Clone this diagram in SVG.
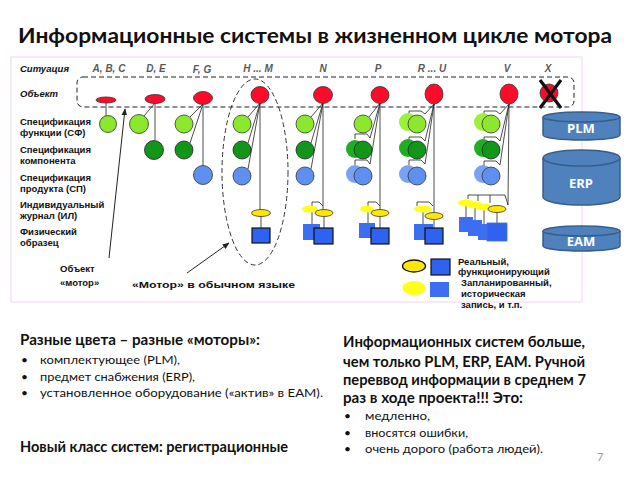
<svg xmlns="http://www.w3.org/2000/svg" width="638" height="479" viewBox="0 0 638 479">
<style>
.t{font-family:"Liberation Sans",Arial,sans-serif;font-weight:bold;font-size:9.5px;fill:#111}
.ti{font-family:"Liberation Sans",Arial,sans-serif;font-weight:bold;font-style:italic;font-size:9.5px;fill:#111}
.hd{font-family:"Liberation Sans",Arial,sans-serif;font-weight:bold;font-style:italic;font-size:10px;fill:#5a5a5a;text-anchor:middle}
.c{font-family:Lato,"Open Sans",sans-serif;fill:#111}
.b{font-weight:bold}
.red{fill:#ff0a2a;stroke:#333;stroke-width:0.8}
.lg{fill:#8ce82c;stroke:#333;stroke-width:0.8}
.lgg{fill:#9cf23a;stroke:none}
.dg{fill:#12961a;stroke:#222;stroke-width:0.8}
.dgg{fill:#1fae22;stroke:none}
.bl{fill:#5f8ff0;stroke:#333;stroke-width:0.8}
.blg{fill:#7aa2f4;stroke:none}
.yl{fill:#ffe800;stroke:#333;stroke-width:0.8}
.ylg{fill:#ffff1a;stroke:none}
.sq{fill:#2f62f0;stroke:#111;stroke-width:1.2}
.sqg{fill:#3c6ef2;stroke:none}
.ln{fill:none;stroke:#222;stroke-width:0.8}
.cyl{fill:#4f81bd;stroke:#385d8a;stroke-width:1.5}
.cyt{font-family:"Open Sans","Liberation Sans",sans-serif;font-weight:bold;font-size:13px;fill:#fff;text-anchor:middle}
</style>
<defs>
<marker id="ah" viewBox="0 0 10 10" refX="9" refY="5" markerWidth="7" markerHeight="7" orient="auto-start-reverse">
<path d="M0,1 L10,5 L0,9 z" fill="#222"/>
</marker>
</defs>
<rect width="638" height="479" fill="#fff"/>
<rect x="11" y="57" width="571" height="245" fill="none" stroke="#f0d4f0" stroke-width="1"/>
<text class="c b" x="18" y="43" font-size="21" textLength="594" lengthAdjust="spacingAndGlyphs">Информационные системы в жизненном цикле мотора</text>

<g id="row-labels">
<text class="ti" x="20" y="72">Ситуация</text>
<text class="ti" x="20" y="97">Объект</text>
<text class="t" x="20" y="125">Спецификация</text>
<text class="t" x="20" y="136">функции (СФ)</text>
<text class="t" x="20" y="153">Спецификация</text>
<text class="t" x="20" y="164">компонента</text>
<text class="t" x="20" y="181">Спецификация</text>
<text class="t" x="20" y="192">продукта (СП)</text>
<text class="t" x="20" y="208">Индивидуальный</text>
<text class="t" x="20" y="219">журнал (ИЛ)</text>
<text class="t" x="20" y="235">Физический</text>
<text class="t" x="20" y="246">образец</text>
</g>

<g id="col-headers">
<text class="hd" x="109" y="72">A, B, C</text>
<text class="hd" x="156" y="72">D, E</text>
<text class="hd" x="202" y="73">F, G</text>
<text class="hd" x="258" y="72">H ... M</text>
<text class="hd" x="323" y="72">N</text>
<text class="hd" x="378" y="72">P</text>
<text class="hd" x="432" y="72">R ... U</text>
<text class="hd" x="507" y="72">V</text>
<text class="hd" x="548" y="72">X</text>
</g>

<rect id="object-band" x="77" y="77" width="497" height="30" rx="6" fill="none" stroke="#222" stroke-width="1" stroke-dasharray="5,3"/>

<g id="connectors">
<line class="ln" x1="106" y1="103" x2="106" y2="116"/>
<line class="ln" x1="155" y1="103" x2="144" y2="116"/>
<line class="ln" x1="155" y1="103" x2="155" y2="140"/>
<line class="ln" x1="203" y1="104" x2="190" y2="117"/>
<line class="ln" x1="203" y1="104" x2="190" y2="143"/>
<line class="ln" x1="203" y1="104" x2="203" y2="166"/>
<line class="ln" x1="260" y1="103" x2="248" y2="117"/>
<line class="ln" x1="260" y1="103" x2="248" y2="143"/>
<line class="ln" x1="260" y1="103" x2="248" y2="169"/>
<line class="ln" x1="260" y1="103" x2="260" y2="210"/>
<line class="ln" x1="261" y1="216" x2="261" y2="228"/>
<line class="ln" x1="323" y1="103" x2="311" y2="117"/>
<line class="ln" x1="323" y1="103" x2="311" y2="143"/>
<line class="ln" x1="323" y1="103" x2="311" y2="169"/>
<line class="ln" x1="323" y1="103" x2="323" y2="210"/>
<path class="ln" d="M312,206 V202 H319 L323,206"/>
<line class="ln" x1="312" y1="212" x2="312" y2="224"/>
<line class="ln" x1="324" y1="217" x2="324" y2="228"/>
<line class="ln" x1="380" y1="103" x2="369" y2="117"/>
<line class="ln" x1="380" y1="103" x2="370" y2="138"/>
<path class="ln" d="M355,139 V134 H367 L370,138"/>
<line class="ln" x1="380" y1="103" x2="370" y2="164"/>
<path class="ln" d="M355,165 V160 H367 L370,164"/>
<line class="ln" x1="380" y1="103" x2="380" y2="210"/>
<path class="ln" d="M368,206 V202 H376 L380,206"/>
<line class="ln" x1="368" y1="212" x2="368" y2="223"/>
<line class="ln" x1="380" y1="217" x2="380" y2="228"/>
<line class="ln" x1="434" y1="104" x2="425" y2="114"/>
<path class="ln" d="M409,116 V111 H421 L425,114"/>
<line class="ln" x1="434" y1="104" x2="425" y2="141"/>
<path class="ln" d="M409,142 V137 H421 L425,141"/>
<line class="ln" x1="434" y1="104" x2="425" y2="164"/>
<path class="ln" d="M409,165 V160 H421 L425,164"/>
<line class="ln" x1="434" y1="104" x2="434" y2="212"/>
<path class="ln" d="M417,206 V202 H429 L433,206"/>
<line class="ln" x1="423" y1="212" x2="423" y2="224"/>
<line class="ln" x1="434" y1="219" x2="434" y2="228"/>
<line class="ln" x1="509" y1="104" x2="500" y2="114"/>
<path class="ln" d="M484,116 V111 H496 L500,114"/>
<line class="ln" x1="509" y1="104" x2="500" y2="141"/>
<path class="ln" d="M484,142 V137 H496 L500,141"/>
<line class="ln" x1="509" y1="104" x2="500" y2="165"/>
<path class="ln" d="M484,166 V161 H496 L500,165"/>
<line class="ln" x1="509" y1="104" x2="508" y2="205"/>
<path class="ln" d="M468,199 V195 H505 L508,205"/>
<line class="ln" x1="478" y1="195" x2="478" y2="201"/>
<line class="ln" x1="490" y1="195" x2="490" y2="203"/>
<line class="ln" x1="466" y1="206" x2="466" y2="217"/>
<line class="ln" x1="475" y1="208" x2="475" y2="220"/>
<line class="ln" x1="484" y1="210" x2="484" y2="224"/>
<line class="ln" x1="497" y1="212" x2="497" y2="223"/>
<line x1="109" y1="258" x2="125" y2="109" stroke="#222" stroke-width="1" marker-end="url(#ah)"/>
<line x1="187" y1="273" x2="229" y2="243" stroke="#222" stroke-width="1" marker-end="url(#ah)"/>
</g>

<g id="col-abc">
<ellipse class="red" cx="106" cy="100" rx="10" ry="3"/>
<circle class="lg" cx="108" cy="124" r="8.5"/>
</g>
<g id="col-de">
<ellipse class="red" cx="155" cy="99" rx="10" ry="4.5"/>
<circle class="lg" cx="139" cy="124" r="9.5"/>
<circle class="dg" cx="154" cy="150" r="9.5"/>
</g>
<g id="col-fg">
<ellipse class="red" cx="203" cy="98" rx="9.5" ry="6.5"/>
<circle class="lg" cx="184" cy="124" r="9"/>
<circle class="dg" cx="184" cy="150" r="9"/>
<circle class="bl" cx="203" cy="175" r="9.5"/>
</g>
<g id="col-hm">
<ellipse class="red" cx="260" cy="95" rx="9" ry="8.5"/>
<circle class="lg" cx="242" cy="124" r="9"/>
<circle class="dg" cx="242" cy="150" r="9"/>
<circle class="bl" cx="242" cy="176" r="9"/>
<ellipse class="yl" cx="261" cy="213" rx="9.5" ry="3.5"/>
<rect class="sq" x="252" y="228" width="18" height="15"/>
<ellipse cx="255" cy="172" rx="33" ry="93" fill="none" stroke="#333" stroke-width="1" stroke-dasharray="5,3"/>
</g>
<g id="col-n">
<ellipse class="red" cx="323" cy="95" rx="9.5" ry="8.5"/>
<circle class="lg" cx="305" cy="124" r="9"/>
<circle class="dg" cx="305" cy="150" r="9"/>
<circle class="bl" cx="305" cy="176" r="9"/>
<ellipse class="ylg" cx="310" cy="209" rx="8" ry="3.5"/>
<ellipse class="yl" cx="324" cy="213" rx="9" ry="3.5"/>
<rect class="sqg" x="303" y="224" width="17" height="16"/>
<rect class="sq" x="314" y="228" width="19" height="16"/>
</g>
<g id="col-p">
<ellipse class="red" cx="380" cy="95" rx="9" ry="8.5"/>
<circle class="lg" cx="363" cy="124" r="9"/>
<circle class="dgg" cx="355" cy="149" r="9"/>
<circle class="dg" cx="363" cy="150" r="9"/>
<circle class="blg" cx="355" cy="174" r="9"/>
<circle class="bl" cx="363" cy="176" r="9"/>
<ellipse class="ylg" cx="367" cy="209" rx="7" ry="3.5"/>
<ellipse class="yl" cx="380" cy="213" rx="9" ry="3.5"/>
<rect class="sqg" x="359" y="223" width="16" height="15"/>
<rect class="sq" x="371" y="228" width="18" height="16"/>
</g>
<g id="col-ru">
<ellipse class="red" cx="434" cy="94" rx="9" ry="10"/>
<circle class="lgg" cx="408" cy="122" r="9"/>
<circle class="lg" cx="417" cy="124" r="9"/>
<circle class="dgg" cx="408" cy="148" r="9"/>
<circle class="dg" cx="417" cy="150" r="9"/>
<circle class="blg" cx="408" cy="174" r="9"/>
<circle class="bl" cx="417" cy="176" r="9"/>
<ellipse class="ylg" cx="423" cy="209" rx="9" ry="3.5"/>
<ellipse class="yl" cx="434" cy="216" rx="9" ry="3.5"/>
<rect class="sqg" x="414" y="224" width="19" height="16"/>
<rect class="sq" x="425" y="228" width="18" height="16"/>
</g>
<g id="col-v">
<ellipse class="red" cx="509" cy="94" rx="9" ry="10"/>
<circle class="lgg" cx="483" cy="122" r="9"/>
<circle class="lg" cx="491" cy="124" r="9"/>
<circle class="dgg" cx="483" cy="148" r="9"/>
<circle class="dg" cx="491" cy="150" r="9"/>
<circle class="blg" cx="483" cy="174" r="9"/>
<circle class="bl" cx="491" cy="176" r="9"/>
<ellipse class="ylg" cx="466" cy="203" rx="8" ry="3.5"/>
<ellipse class="ylg" cx="475" cy="205" rx="8" ry="3.5"/>
<ellipse class="ylg" cx="484" cy="207" rx="8" ry="3.5"/>
<ellipse class="yl" cx="497" cy="209" rx="9" ry="3.5"/>
<rect class="sqg" x="459" y="217" width="14" height="15"/>
<rect class="sqg" x="468" y="220" width="14" height="16"/>
<rect class="sqg" x="478" y="224" width="12" height="16"/>
<rect x="487" y="223" width="20" height="18" fill="#2f62f0" stroke="#4a6fd0" stroke-width="0.8"/>
</g>
<g id="col-x">
<ellipse class="red" cx="549" cy="93" rx="9" ry="9"/>
<path d="M540,80 L561,108 M561,80 L540,108" stroke="#111" stroke-width="3.2" fill="none"/>
</g>

<g id="plm">
<path class="cyl" d="M543,117 A38.5,5 0 0 1 620,117 V135 A38.5,5 0 0 1 543,135 Z"/>
<path class="cyl" d="M543,117 A38.5,5 0 0 0 620,117" fill="none"/>
<text class="cyt" x="581" y="133">PLM</text>
</g>
<g id="erp">
<path class="cyl" d="M543,158 A38.5,8 0 0 1 620,158 V197 A38.5,8 0 0 1 543,197 Z"/>
<path class="cyl" d="M543,158 A38.5,8 0 0 0 620,158" fill="none"/>
<text class="cyt" x="581" y="188">ERP</text>
</g>
<g id="eam">
<path class="cyl" d="M543,231 A38.5,5 0 0 1 620,231 V246 A38.5,5 0 0 1 543,246 Z"/>
<path class="cyl" d="M543,231 A38.5,5 0 0 0 620,231" fill="none"/>
<text class="cyt" x="581" y="246">EAM</text>
</g>

<g id="legend">
<ellipse cx="414" cy="266" rx="11.5" ry="6" fill="#ffe800" stroke="#111" stroke-width="1.3"/>
<rect class="sq" x="431" y="259" width="19" height="16"/>
<ellipse class="ylg" cx="414" cy="288" rx="11.5" ry="7"/>
<rect class="sqg" x="430" y="282" width="19" height="15"/>
<text class="t" x="458" y="265" font-size="9.3">Реальный,</text>
<text class="t" x="458" y="275" font-size="9.3">функционирующий</text>
<text class="t" x="461" y="286" font-size="9.3">Запланированный,</text>
<text class="t" x="461" y="297" font-size="9.3">историческая</text>
<text class="t" x="461" y="308" font-size="9.3">запись, и т.п.</text>
</g>

<g id="annotations">
<text class="t" x="60" y="272" font-size="11">Объект</text>
<text class="t" x="60" y="286" font-size="11">«мотор»</text>
<text class="t" x="132" y="288" font-size="11" textLength="163" lengthAdjust="spacingAndGlyphs">«Мотор» в обычном языке</text>
</g>

<g id="left-text">
<text class="c b" x="20" y="345" font-size="14.5" textLength="240" lengthAdjust="spacingAndGlyphs">Разные цвета – разные «моторы»:</text>
<text class="c" x="21" y="364" font-size="12">•</text>
<text class="c" x="40" y="364" font-size="12" textLength="140" lengthAdjust="spacingAndGlyphs">комплектующее (PLM),</text>
<text class="c" x="21" y="381" font-size="12">•</text>
<text class="c" x="40" y="381" font-size="12" textLength="155" lengthAdjust="spacingAndGlyphs">предмет снабжения (ERP),</text>
<text class="c" x="21" y="397" font-size="12">•</text>
<text class="c" x="40" y="397" font-size="12" textLength="283" lengthAdjust="spacingAndGlyphs">установленное оборудование («актив» в EAM).</text>
<text class="c b" x="20" y="452" font-size="14.5" textLength="268" lengthAdjust="spacingAndGlyphs">Новый класс систем: регистрационные</text>
</g>

<g id="right-text">
<text class="c b" x="343" y="347" font-size="14.5" textLength="242" lengthAdjust="spacingAndGlyphs">Информационных систем больше,</text>
<text class="c b" x="343" y="367" font-size="14.5" textLength="242" lengthAdjust="spacingAndGlyphs">чем только PLM, ERP, EAM. Ручной</text>
<text class="c b" x="343" y="385" font-size="14.5" textLength="243" lengthAdjust="spacingAndGlyphs">переввод информации в среднем 7</text>
<text class="c b" x="343" y="403" font-size="14.5" textLength="180" lengthAdjust="spacingAndGlyphs">раз в ходе проекта!!! Это:</text>
<text class="c" x="344" y="420" font-size="12">•</text>
<text class="c" x="365" y="420" font-size="12" textLength="65" lengthAdjust="spacingAndGlyphs">медленно,</text>
<text class="c" x="344" y="437" font-size="12">•</text>
<text class="c" x="365" y="437" font-size="12" textLength="103" lengthAdjust="spacingAndGlyphs">вносятся ошибки,</text>
<text class="c" x="344" y="453" font-size="12">•</text>
<text class="c" x="365" y="453" font-size="12" textLength="178" lengthAdjust="spacingAndGlyphs">очень дорого (работа людей).</text>
<text x="597" y="461" font-family="Lato,sans-serif" font-size="11" fill="#999">7</text>
</g>
</svg>
